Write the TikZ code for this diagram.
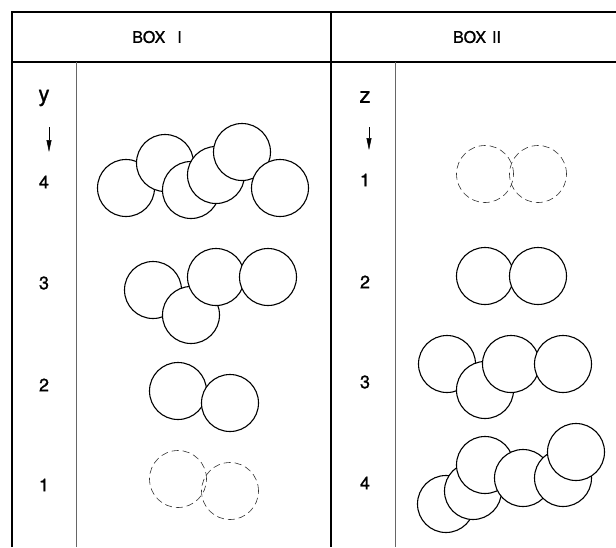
\documentclass[tikz,border=0pt]{standalone}
\usepackage{fontspec}
\setmainfont{TeX Gyre Heros}
\newfontfamily\labelfont[FakeBold=1.2]{TeX Gyre Heros}
\usetikzlibrary{arrows.meta}

\begin{document}
\begin{tikzpicture}[
    x=1pt, y=-1pt,
    frame/.style={line width=1.4pt, black},
    divider/.style={line width=0.5pt, black!60},
    ball/.style={circle, draw, fill=white, line width=1.1pt,
      minimum size=57pt, inner sep=0pt},
    ghost/.style={circle, draw, black!80, line width=0.6pt,
      dash pattern=on 7pt off 4pt, minimum size=57pt, inner sep=0pt},
    head/.style={font=\labelfont\fontsize{16}{18}\selectfont},
    level/.style={font=\labelfont\fontsize{18}{20}\selectfont},
    var/.style={font=\labelfont\fontsize{22}{24}\selectfont},
    down/.style={-{Triangle[length=12pt, width=5pt]}, line width=0.5pt}
  ]
    \useasboundingbox (0,0) rectangle (616,547);

    % Frame
    \draw[frame] (12,547) -- (12,12) -- (616,12);
    \draw[frame] (12,62) -- (616,62);
    \draw[frame] (331,12) -- (331,547);
    \draw[divider] (76,62) -- (76,547);
    \draw[divider] (395,62) -- (395,547);

    % Headers
    \node[head] (hdrA) at (157,37) {BOX\hspace{12pt}I};
    \node[head] (hdrB) at (477,37) {BOX\hspace{6pt}II};

    % Box I levels
    \node[var] (yvar) at (44,98) {y};
    \coordinate (ytop) at (49,127);
    \coordinate (ybot) at (49,152);
    \draw[down] (ytop) -- (ybot);
    \node[level] (y4) at (44,182) {4};
    \node[level] (y3) at (44,283) {3};
    \node[level] (y2) at (44,385) {2};
    \node[level] (y1) at (44,485) {1};

    % Box II levels
    \node[var] (zvar) at (365,97) {z};
    \coordinate (ztop) at (369,127);
    \coordinate (zbot) at (369,150);
    \draw[down] (ztop) -- (zbot);
    \node[level] (z1) at (365,180) {1};
    \node[level] (z2) at (365,282) {2};
    \node[level] (z3) at (365,382) {3};
    \node[level] (z4) at (365,483) {4};

    % Box I, level 4
    \node[ball] (a4a) at (126,188) {};
    \node[ball] (a4b) at (165,163) {};
    \node[ball] (a4c) at (191,190) {};
    \node[ball] (a4d) at (216,175) {};
    \node[ball] (a4e) at (242,152) {};
    \node[ball] (a4f) at (280,188) {};

    % Box I, level 3
    \node[ball] (a3a) at (153,290) {};
    \node[ball] (a3b) at (191,315) {};
    \node[ball] (a3c) at (216,277) {};
    \node[ball] (a3d) at (268,277) {};

    % Box I, level 2
    \node[ball] (a2a) at (178,391) {};
    \node[ball] (a2b) at (230,403) {};

    % Box I, level 1
    \node[ghost] (a1a) at (178,479) {};
    \node[ghost] (a1b) at (230,491) {};

    % Box II, level 1
    \node[ghost] (b1a) at (485,174) {};
    \node[ghost] (b1b) at (538,174) {};

    % Box II, level 2
    \node[ball] (b2a) at (485,276) {};
    \node[ball] (b2b) at (538,276) {};

    % Box II, level 3
    \node[ball] (b3a) at (447,364) {};
    \node[ball] (b3b) at (485,390) {};
    \node[ball] (b3c) at (511,364) {};
    \node[ball] (b3d) at (563,364) {};

    % Box II, level 4
    \node[ball] (b4a) at (446,504) {};
    \node[ball] (b4b) at (473,491) {};
    \node[ball] (b4c) at (485,465) {};
    \node[ball] (b4d) at (523,478) {};
    \node[ball] (b4e) at (563,478) {};
    \node[ball] (b4f) at (576,452) {};
  \end{tikzpicture}
\end{document}
